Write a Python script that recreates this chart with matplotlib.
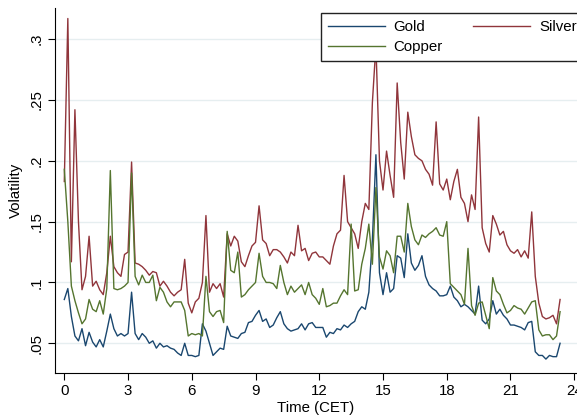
import numpy as np
import matplotlib
matplotlib.use('Agg')
import matplotlib.pyplot as plt

plt.rcParams['font.family'] = ['Liberation Sans', 'DejaVu Sans']

# intraday volatility, 10-minute bins starting at 00:00 CET
gold = [0.086, 0.095, 0.072, 0.056, 0.052, 0.062, 0.048, 0.059, 0.051, 0.047, 0.053, 0.047,
        0.060, 0.074, 0.062, 0.056, 0.058, 0.056, 0.058, 0.092, 0.058, 0.053, 0.058,
        0.055, 0.050, 0.052, 0.046, 0.050, 0.047, 0.048, 0.046, 0.045, 0.042, 0.040, 0.050,
        0.040, 0.040, 0.039, 0.040, 0.066, 0.060, 0.050, 0.040, 0.043, 0.046, 0.045, 0.064,
        0.056, 0.055, 0.054, 0.058, 0.059, 0.067, 0.068, 0.073, 0.077, 0.068, 0.070, 0.063,
        0.065, 0.071, 0.076, 0.066, 0.062, 0.060, 0.061, 0.062, 0.066, 0.061, 0.066,
        0.067, 0.063, 0.063, 0.063, 0.055, 0.059, 0.058, 0.062, 0.061, 0.065, 0.063, 0.066,
        0.068, 0.076, 0.080, 0.078, 0.092, 0.135, 0.205, 0.108, 0.090, 0.108, 0.092, 0.095,
        0.122, 0.120, 0.104, 0.140, 0.116, 0.110, 0.114, 0.122, 0.105, 0.098, 0.095, 0.093,
        0.089, 0.089, 0.090, 0.097, 0.088, 0.085, 0.080, 0.082, 0.080, 0.077, 0.074,
        0.097, 0.069, 0.066, 0.070, 0.085, 0.074, 0.078, 0.073, 0.070, 0.065, 0.065, 0.064,
        0.063, 0.061, 0.067, 0.068, 0.043, 0.040, 0.040, 0.037, 0.040, 0.039, 0.039, 0.050]

silver = [0.183, 0.317, 0.117, 0.242, 0.150, 0.094, 0.105, 0.138, 0.097, 0.101, 0.094, 0.090,
          0.108, 0.138, 0.113, 0.108, 0.105, 0.123, 0.125, 0.199, 0.116, 0.115, 0.113,
          0.110, 0.106, 0.109, 0.108, 0.097, 0.101, 0.097, 0.092, 0.089, 0.092, 0.094, 0.119,
          0.083, 0.075, 0.084, 0.087, 0.100, 0.155, 0.092, 0.099, 0.095, 0.099, 0.088, 0.140,
          0.130, 0.138, 0.134, 0.117, 0.113, 0.122, 0.130, 0.133, 0.163, 0.135, 0.132, 0.122,
          0.127, 0.127, 0.125, 0.121, 0.116, 0.125, 0.122, 0.147, 0.126, 0.128, 0.118,
          0.124, 0.125, 0.121, 0.121, 0.118, 0.115, 0.130, 0.140, 0.143, 0.188, 0.150, 0.145,
          0.140, 0.128, 0.150, 0.165, 0.160, 0.248, 0.295, 0.200, 0.176, 0.208, 0.188, 0.170,
          0.264, 0.215, 0.185, 0.240, 0.220, 0.205, 0.202, 0.200, 0.193, 0.189, 0.180, 0.232,
          0.181, 0.176, 0.185, 0.168, 0.183, 0.193, 0.170, 0.165, 0.150, 0.172, 0.160,
          0.236, 0.145, 0.132, 0.125, 0.155, 0.148, 0.139, 0.142, 0.131, 0.126, 0.124, 0.127,
          0.121, 0.126, 0.120, 0.158, 0.105, 0.083, 0.072, 0.070, 0.071, 0.073, 0.066, 0.086]

copper = [0.193, 0.150, 0.097, 0.085, 0.075, 0.066, 0.070, 0.086, 0.078, 0.076, 0.085, 0.074,
          0.095, 0.192, 0.095, 0.094, 0.095, 0.097, 0.100, 0.190, 0.105, 0.098, 0.106,
          0.100, 0.100, 0.106, 0.085, 0.096, 0.092, 0.084, 0.080, 0.084, 0.084, 0.084, 0.077,
          0.056, 0.058, 0.057, 0.058, 0.056, 0.105, 0.076, 0.072, 0.076, 0.077, 0.067, 0.142,
          0.110, 0.108, 0.125, 0.088, 0.090, 0.094, 0.097, 0.100, 0.124, 0.105, 0.100, 0.100,
          0.099, 0.095, 0.114, 0.100, 0.090, 0.097, 0.092, 0.095, 0.098, 0.090, 0.100,
          0.090, 0.087, 0.082, 0.095, 0.080, 0.081, 0.083, 0.083, 0.089, 0.094, 0.090, 0.148,
          0.093, 0.094, 0.115, 0.128, 0.148, 0.115, 0.178, 0.121, 0.111, 0.126, 0.122, 0.108,
          0.138, 0.138, 0.125, 0.165, 0.146, 0.135, 0.131, 0.139, 0.137, 0.140, 0.142, 0.145,
          0.139, 0.138, 0.150, 0.099, 0.096, 0.093, 0.090, 0.082, 0.128, 0.081, 0.073,
          0.083, 0.084, 0.073, 0.062, 0.104, 0.093, 0.090, 0.082, 0.075, 0.077, 0.081, 0.079,
          0.078, 0.074, 0.079, 0.084, 0.085, 0.061, 0.056, 0.057, 0.057, 0.053, 0.056, 0.076]

hours = np.arange(len(gold)) / 6.0

xticks = [0, 3, 6, 9, 12, 15, 18, 21, 24]
yticks = [0.05, 0.1, 0.15, 0.2, 0.25, 0.3]
ylabels = ['.05', '.1', '.15', '.2', '.25', '.3']

fig = plt.figure(figsize=(5.77, 4.17), dpi=100)
ax = fig.add_axes([0.0953, 0.1062, 0.9047, 0.8748])

ax.plot(hours, gold, color='#1a476f', lw=1.0, label='Gold')
ax.plot(hours, silver, color='#90353b', lw=1.0, label='Silver')
ax.plot(hours, copper, color='#55752f', lw=1.0, label='Copper')

ax.set_xlim(-0.438, 24.13)
ax.set_ylim(0.0258, 0.3257)
ax.set_xticks(xticks)
ax.set_yticks(yticks)
ax.set_yticklabels(ylabels, rotation=90, va='center')
ax.tick_params(labelsize=10.8, length=5, width=0.8, color='black', pad=3)
ax.yaxis.grid(True, color='#e6eef0', lw=1.0)
ax.set_axisbelow(True)

for s in ['top', 'right']:
    ax.spines[s].set_visible(False)
for s in ['left', 'bottom']:
    ax.spines[s].set_linewidth(0.8)

ax.set_xlabel('Time (CET)', fontsize=10.8, labelpad=2)
ax.set_ylabel('Volatility', fontsize=10.8, labelpad=5)

h, l = ax.get_legend_handles_labels()
# column-wise fill: Gold/Copper in first column, Silver in second
order = [0, 2, 1]
leg = fig.legend([h[i] for i in order], [l[i] for i in order], ncol=2,
                 loc='upper left', bbox_to_anchor=(321 / 577, 1 - 13 / 417),
                 borderaxespad=0, fontsize=10.8, handlelength=3.8, handletextpad=0.6,
                 columnspacing=2.0, labelspacing=0.45, borderpad=0.45,
                 fancybox=False, framealpha=1, edgecolor='#222222')
leg.get_frame().set_linewidth(1.0)

fig.savefig('out.png', dpi=100)
